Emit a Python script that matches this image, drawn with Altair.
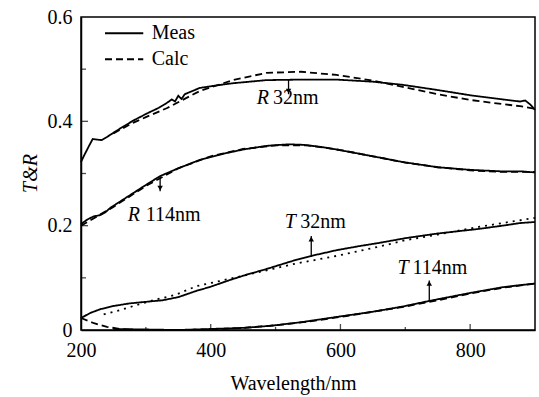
import altair as alt
import pandas as pd

# ---------------- data ----------------
r32_meas_wl = [200, 205, 212, 218, 225, 232, 240, 260, 280, 300, 320, 332, 340, 345, 350, 355, 360, 383, 410, 434,
               486, 540, 594, 650, 696, 750, 800, 850, 877, 885, 893, 900]
r32_meas_v = [0.322, 0.335, 0.352, 0.366, 0.365, 0.364, 0.370, 0.386, 0.401, 0.414, 0.426, 0.435, 0.442, 0.438,
              0.449, 0.443, 0.452, 0.464, 0.469, 0.473, 0.479, 0.480, 0.480, 0.476, 0.470, 0.460, 0.450, 0.442,
              0.438, 0.440, 0.432, 0.422]

r32_calc_wl = [250, 280, 300, 332, 383, 434, 486, 539, 594, 650, 696, 750, 800, 850, 877, 900]
r32_calc_v = [0.377, 0.397, 0.408, 0.425, 0.458, 0.479, 0.493, 0.495, 0.489, 0.478, 0.466, 0.452, 0.441, 0.433,
              0.429, 0.424]

r114_meas_wl = [200, 210, 220, 229, 237, 245, 255, 265, 280, 300, 322, 350, 383, 420, 450, 486, 520, 542, 570,
                594, 650, 696, 750, 800, 850, 880, 900]
r114_meas_v = [0.203, 0.212, 0.218, 0.220, 0.225, 0.234, 0.242, 0.250, 0.262, 0.278, 0.295, 0.310, 0.326, 0.338,
               0.346, 0.353, 0.356, 0.355, 0.351, 0.346, 0.333, 0.322, 0.312, 0.307, 0.304, 0.304, 0.302]

r114_calc_wl = [200, 250, 300, 350, 400, 450, 500, 550, 600, 650, 700, 750, 800, 850, 900]
r114_calc_v = [0.200, 0.236, 0.276, 0.310, 0.333, 0.347, 0.354, 0.354, 0.345, 0.333, 0.321, 0.312, 0.306, 0.303,
               0.303]

t32_meas_wl = [200, 215, 230, 250, 275, 300, 326, 350, 378, 400, 430, 455, 481, 507, 533, 555, 594, 630, 660,
               700, 750, 815, 850, 877, 900]
t32_meas_v = [0.023, 0.033, 0.040, 0.046, 0.051, 0.054, 0.057, 0.063, 0.075, 0.083, 0.096, 0.106, 0.115, 0.125,
              0.135, 0.142, 0.153, 0.161, 0.167, 0.176, 0.185, 0.194, 0.200, 0.205, 0.207]

t32_calc_wl = [235, 260, 286, 314, 345, 378, 418, 450, 481, 530, 594, 660, 700, 750, 815, 850, 900]
t32_calc_v = [0.030, 0.038, 0.048, 0.058, 0.067, 0.084, 0.095, 0.104, 0.113, 0.127, 0.142, 0.160, 0.172, 0.183,
              0.198, 0.205, 0.215]

t114_meas_wl = [250, 300, 350, 400, 450, 492, 540, 594, 650, 696, 738, 800, 850, 877, 900]
t114_meas_v = [0.002, 0.001, 0.000, 0.002, 0.004, 0.008, 0.015, 0.025, 0.035, 0.045, 0.056, 0.071, 0.082, 0.086,
               0.089]

t114_calc_wl = [200, 220, 240, 260, 280, 350, 400, 450, 500, 550, 600, 650, 700, 750, 800, 850, 900]
t114_calc_v = [0.023, 0.013, 0.006, 0.002, 0.000, 0.000, 0.001, 0.004, 0.009, 0.016, 0.025, 0.035, 0.045, 0.057,
               0.070, 0.081, 0.089]

# annotations: arrows (x, tail, head) and labels (letter, rest)
arrow_wl = [520, 322, 555, 737]
arrow_from = [0.480, 0.294, 0.140, 0.055]
arrow_to = [0.452, 0.266, 0.180, 0.095]
arrow_dir = ["down", "down", "up", "up"]

label_letter = ["R", "R", "T", "T"]
label_rest = ["32nm", "114nm", "32nm", "114nm"]
label_letter_wl = [471, 272, 514, 688]
label_rest_wl = [496, 300, 538, 711]
label_v = [0.445, 0.220, 0.207, 0.119]

# legend entries (drawn inside the plot, top-left)
legend_names = ["Meas", "Calc"]
legend_v = [0.569, 0.519]
legend_line_from = 237
legend_line_to = 296
legend_text_wl = 309

x_ticks_major = [400, 600, 800]
x_ticks_minor = [300, 500, 700]
y_ticks_major = [0.2, 0.4]
y_ticks_minor = [0.1, 0.3, 0.5]

# ---------------- build tables ----------------
rows = []
for name, style, wl, v in [
    ("R32 meas", "Meas", r32_meas_wl, r32_meas_v),
    ("R32 calc", "Calc", r32_calc_wl, r32_calc_v),
    ("R114 meas", "Meas", r114_meas_wl, r114_meas_v),
    ("R114 calc", "Calc", r114_calc_wl, r114_calc_v),
    ("T32 meas", "Meas", t32_meas_wl, t32_meas_v),
    ("T32 calc", "Dot", t32_calc_wl, t32_calc_v),
    ("T114 meas", "Meas", t114_meas_wl, t114_meas_v),
    ("T114 calc", "Calc", t114_calc_wl, t114_calc_v),
]:
    for a, b in zip(wl, v):
        rows.append({"wl": a, "val": b, "series": name, "style": style})
df = pd.DataFrame(rows)

arrows = pd.DataFrame({"wl": arrow_wl, "y1": arrow_from, "y2": arrow_to, "dir": arrow_dir})
labels = pd.DataFrame({"letter": label_letter, "rest": label_rest, "lwl": label_letter_wl,
                       "rwl": label_rest_wl, "v": label_v})
leg = pd.DataFrame({"style": legend_names, "v": legend_v})
yt_major = pd.DataFrame({"v": y_ticks_major})
yt_minor = pd.DataFrame({"v": y_ticks_minor})
xt_major = pd.DataFrame({"wl": x_ticks_major})
xt_minor = pd.DataFrame({"wl": x_ticks_minor})

FONT = "Liberation Serif, Times New Roman, serif"

xscale = alt.Scale(domain=[200, 900], nice=False, zero=False)
yscale = alt.Scale(domain=[0, 0.6], nice=False)
dash_scale = alt.Scale(domain=["Meas", "Calc", "Dot"], range=[[1, 0], [7, 4], [2, 5]])

xaxis = alt.Axis(values=[200, 400, 600, 800], title="Wavelength/nm", ticks=False, tickSize=0,
                 labelPadding=10, grid=False, titleX=212, titleY=59, titleBaseline="alphabetic",
                 titleAlign="center", labelFlush=False)
yaxis = alt.Axis(values=[0, 0.2, 0.4, 0.6], title="T&R", ticks=False, tickSize=0, labelPadding=9,
                 grid=False, titleFontStyle="italic", titleX=-45, titleY=156, titleAngle=-90,
                 titleBaseline="alphabetic", titleAlign="center",
                 labelExpr="datum.value == 0 ? '0' : format(datum.value, '.1f')",
                 labelFlush=False)

lines = alt.Chart(df).mark_line(strokeWidth=1.8, color="black").encode(
    x=alt.X("wl:Q", scale=xscale, axis=xaxis),
    y=alt.Y("val:Q", scale=yscale, axis=yaxis),
    detail="series:N",
    order="wl:Q",
    strokeDash=alt.StrokeDash("style:N", scale=dash_scale, legend=None),
)

leg_lines = alt.Chart(leg).mark_rule(color="black", strokeWidth=2).encode(
    x=alt.datum(legend_line_from), x2=alt.datum(legend_line_to), y="v:Q",
    strokeDash=alt.StrokeDash("style:N", scale=dash_scale, legend=None))
leg_text = alt.Chart(leg).mark_text(font=FONT, fontSize=20, align="left", baseline="middle",
                                    color="black").encode(
    x=alt.datum(legend_text_wl), y="v:Q", text="style:N")

shafts = alt.Chart(arrows).mark_rule(color="black", strokeWidth=1.3).encode(
    x="wl:Q", y="y1:Q", y2="y2:Q")

heads_down = alt.Chart(arrows).transform_filter("datum.dir == 'down'").mark_point(
    shape="triangle-down", filled=True, color="black", size=30, opacity=1, yOffset=-3).encode(
    x="wl:Q", y="y2:Q")
heads_up = alt.Chart(arrows).transform_filter("datum.dir == 'up'").mark_point(
    shape="triangle-up", filled=True, color="black", size=30, opacity=1, yOffset=3).encode(
    x="wl:Q", y="y2:Q")

letters = alt.Chart(labels).mark_text(font=FONT, fontSize=20, fontStyle="italic", align="left",
                                      baseline="middle", color="black").encode(
    x="lwl:Q", y="v:Q", text="letter:N")
rests = alt.Chart(labels).mark_text(font=FONT, fontSize=20, align="left", baseline="middle",
                                    color="black").encode(
    x="rwl:Q", y="v:Q", text="rest:N")

ytm = alt.Chart(yt_major).mark_tick(orient="horizontal", size=7, thickness=1.3, color="black",
                                    xOffset=3.5).encode(x=alt.datum(200), y="v:Q")
ytn = alt.Chart(yt_minor).mark_tick(orient="horizontal", size=5, thickness=1.3, color="black",
                                    xOffset=2.5).encode(x=alt.datum(200), y="v:Q")
xtm = alt.Chart(xt_major).mark_tick(orient="vertical", size=6, thickness=1.3, color="black",
                                    yOffset=-3).encode(x="wl:Q", y=alt.datum(0))
xtn = alt.Chart(xt_minor).mark_tick(orient="vertical", size=3, thickness=1.3, color="black",
                                    yOffset=-1.5).encode(x="wl:Q", y=alt.datum(0))

chart = alt.layer(lines, leg_lines, leg_text, shafts, heads_down, heads_up, letters, rests,
                  ytm, ytn, xtm, xtn).properties(
    width=454, height=313,
    autosize=alt.AutoSizeParams(type="none"),
    padding={"left": 81, "top": 17, "right": 4, "bottom": 67},
    background="white",
).configure_view(stroke="black", strokeWidth=1.5).configure_axis(
    domainColor="black", domainWidth=1.5, labelFont=FONT, labelFontSize=20, labelColor="black",
    titleFont=FONT, titleFontSize=20, titleColor="black", titleFontWeight="normal",
)

chart.save("out.html", embed_options={"renderer": "svg", "actions": False})
